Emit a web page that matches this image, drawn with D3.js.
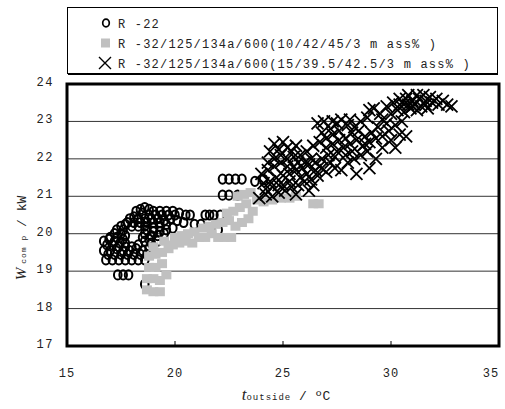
<!DOCTYPE html>
<html>
<head>
<meta charset="utf-8">
<script src="https://cdn.jsdelivr.net/npm/d3@7"></script>
<style>
  body { margin: 0; background: #fff; }
  #chart { width: 505px; height: 409px; }
  text { font-family: "Liberation Mono", monospace; fill: #222; }
</style>
</head>
<body>
<div id="chart"></div>
<script>
// outside temperature (degC) vs compressor power (kW), one array of [t, W] per refrigerant
const r22 = [
  [18.4, 20.65], [18.6, 20.7], [18.8, 20.65], [19.0, 20.6], [19.3, 20.6], [19.6, 20.6], [19.9, 20.6], [20.2, 20.55], [20.5, 20.5],
  [18.2, 20.6], [18.5, 20.55], [18.8, 20.5], [19.1, 20.5], [19.4, 20.5], [19.7, 20.5], [20.0, 20.5],
  [17.9, 20.4], [18.1, 20.45], [18.3, 20.4], [18.6, 20.4], [18.9, 20.4], [19.2, 20.4], [19.5, 20.35], [19.8, 20.4], [20.1, 20.35], [20.4, 20.3], [20.7, 20.5],
  [17.8, 20.3], [18.1, 20.3], [18.4, 20.3], [18.7, 20.3], [19.0, 20.3], [19.3, 20.3], [19.6, 20.25],
  [17.5, 20.2], [17.7, 20.25], [18.0, 20.2], [18.3, 20.2], [18.6, 20.2], [19.0, 20.15], [19.3, 20.2], [19.6, 20.1], [19.9, 20.15],
  [17.3, 20.1], [17.6, 20.1], [18.7, 20.1], [19.0, 20.05], [19.3, 20.05],
  [17.2, 20.0], [17.5, 20.0], [17.7, 19.95], [18.6, 20.0], [18.9, 19.95], [19.2, 19.95], [19.5, 20.0],
  [17.0, 19.9], [17.3, 19.9], [17.6, 19.85], [18.5, 19.9], [18.8, 19.85],
  [16.7, 19.8], [16.95, 19.85], [17.2, 19.8], [17.45, 19.75], [17.7, 19.75], [18.6, 19.8], [18.9, 19.75], [19.2, 19.8],
  [16.85, 19.7], [17.1, 19.7], [17.4, 19.65], [17.7, 19.65], [18.0, 19.65], [18.3, 19.7],
  [16.7, 19.55], [17.0, 19.55], [17.3, 19.6], [17.6, 19.55], [17.9, 19.55], [18.2, 19.6], [18.5, 19.55], [18.8, 19.6],
  [16.9, 19.45], [17.2, 19.45], [17.5, 19.45], [17.8, 19.45], [18.1, 19.45], [18.4, 19.45], [18.7, 19.45],
  [16.8, 19.3], [17.1, 19.3], [17.4, 19.3], [17.7, 19.3], [18.0, 19.3], [18.3, 19.3], [18.6, 19.3],
  [17.35, 18.9], [17.6, 18.9], [17.85, 18.9],
  [18.6, 18.65],
  [20.9, 20.25], [21.2, 20.25], [21.4, 20.5], [21.6, 20.5], [21.8, 20.5], [22.1, 20.5], [22.0, 20.1],
  [22.2, 21.46], [22.5, 21.46], [22.8, 21.46], [23.1, 21.46],
  [22.2, 21.03], [22.5, 21.03], [22.9, 21.03],
  [23.7, 21.4], [24.1, 21.45]
];

const blend10 = [
  [18.7, 18.5], [19.0, 18.45], [19.3, 18.45], [18.7, 18.8], [19.0, 18.8], [19.3, 18.75], [19.6, 18.9],
  [18.8, 19.1], [19.1, 19.1], [19.4, 19.2], [18.8, 19.4], [19.1, 19.45], [19.4, 19.5], [19.7, 19.6],
  [19.0, 19.65], [19.5, 19.8], [19.9, 19.7], [20.2, 19.75], [20.5, 19.8], [20.8, 19.75], [21.1, 19.9],
  [20.0, 19.9], [20.3, 19.95], [20.6, 20.0], [20.9, 20.05], [21.4, 19.9], [21.7, 20.0], [22.0, 19.9], [22.3, 19.9], [22.6, 19.9],
  [21.3, 20.15], [21.6, 20.2], [21.9, 20.25], [22.2, 20.3], [22.5, 20.35], [22.8, 20.2], [23.1, 20.3], [23.4, 20.4],
  [22.4, 20.55], [22.7, 20.6], [23.0, 20.7], [23.3, 20.8], [23.6, 20.6], [22.9, 21.0], [23.2, 21.05], [23.5, 21.1],
  [23.8, 20.9], [24.1, 20.85], [24.5, 20.9], [24.9, 20.95], [25.3, 20.95], [25.6, 21.0],
  [26.4, 20.8], [26.65, 20.8]
];

const blend15 = [
  [23.9, 20.95], [24.2, 21.05], [24.5, 21.0], [24.8, 21.1], [25.1, 21.15], [25.6, 21.05], [26.2, 21.15],
  [25.4, 21.25], [25.7, 21.3], [26.0, 21.4], [26.3, 21.45], [26.6, 21.55], [27.0, 21.65], [27.4, 21.75],
  [24.1, 21.35], [24.4, 21.4], [24.7, 21.5], [25.0, 21.55], [25.3, 21.6], [25.6, 21.7], [25.9, 21.75],
  [26.2, 21.85], [26.5, 21.9], [26.8, 22.0], [27.1, 22.1], [27.5, 22.2], [27.8, 22.3], [28.1, 22.4],
  [28.4, 22.5], [28.8, 22.6], [29.1, 22.7], [29.4, 22.85], [29.8, 22.95],
  [24.3, 21.7], [24.6, 21.8], [24.9, 21.9], [25.2, 22.0], [25.5, 22.05], [25.8, 22.1],
  [24.4, 22.2], [24.8, 22.25], [25.2, 22.3], [25.6, 22.35], [26.1, 22.2], [26.4, 22.35], [26.7, 22.45],
  [27.0, 22.55], [27.3, 22.65], [27.6, 22.75], [26.6, 22.95], [26.9, 23.0], [27.3, 23.0], [27.7, 23.05],
  [28.0, 22.9], [28.3, 22.85], [28.6, 23.0], [28.9, 23.1], [29.2, 23.35], [29.5, 23.2], [29.8, 23.4],
  [30.1, 23.5], [30.4, 23.6], [30.7, 23.6], [31.0, 23.55], [31.3, 23.6], [31.6, 23.55], [31.9, 23.5],
  [32.2, 23.45], [32.6, 23.45], [30.3, 23.3], [30.6, 23.25], [30.9, 23.35], [31.2, 23.3],
  [27.7, 21.7], [28.0, 21.9], [28.3, 22.0], [28.6, 22.1], [28.9, 22.2], [29.3, 22.0], [29.6, 22.3],
  [30.0, 22.5], [30.4, 22.65], [30.7, 22.6], [30.2, 22.9], [30.5, 23.0], [29.0, 21.75], [28.4, 21.6],
  [24.0, 21.6], [24.3, 21.9], [24.6, 22.0], [24.9, 22.1], [25.0, 21.3], [25.3, 21.4], [25.5, 21.8],
  [25.8, 21.5], [26.0, 21.9], [26.3, 22.0], [26.5, 21.7], [26.8, 21.75], [27.0, 22.3], [27.3, 22.4],
  [27.6, 22.5], [27.9, 22.55], [28.2, 22.7], [28.5, 22.75], [28.7, 22.35], [29.0, 22.45], [29.3, 22.55],
  [29.6, 22.6], [29.9, 22.75], [30.2, 22.3], [30.0, 23.2], [30.4, 23.45], [30.8, 23.45], [31.1, 23.45],
  [31.4, 23.4], [31.7, 23.35], [31.5, 23.7], [31.8, 23.65], [32.1, 23.6], [32.4, 23.55], [32.8, 23.4],
  [29.0, 23.3], [29.6, 23.05], [28.1, 23.05], [27.5, 22.95], [26.8, 22.7], [27.2, 22.8], [25.0, 22.45], [24.6, 22.4],
  [24.2, 21.2], [24.5, 21.25], [24.8, 21.3], [25.2, 21.8], [25.4, 22.2], [25.7, 21.9], [26.1, 21.6],
  [26.4, 21.3], [26.7, 21.8], [27.2, 21.9], [27.4, 22.05], [27.9, 22.1], [28.2, 22.2], [28.8, 22.4],
  [30.8, 23.7], [31.2, 23.7], [30.6, 23.45], [31.0, 23.4], [31.6, 23.45]
];

const seriesNames = [
  "R-22",
  "R-32/125/134a/600(10/42/45/3 mass% )",
  "R-32/125/134a/600(15/39.5/42.5/3 mass% )"
];
const xTicks = [15, 20, 25, 30, 35];
const yTicks = [17, 18, 19, 20, 21, 22, 23, 24];

const width = 505;
const height = 409;
const margin = { top: 84, left: 67, right: 6, bottom: 63 };

const svg = d3.select("#chart")
  .append("svg")
  .attr("width", width)
  .attr("height", height);

const xScale = d3.scaleLinear()
  .domain([15, 35])
  .range([margin.left, width - margin.right]);

const yScale = d3.scaleLinear()
  .domain([17, 24])
  .range([height - margin.bottom, margin.top]);

// horizontal gridlines
svg.append("g")
  .selectAll("line")
  .data(yTicks.slice(1, -1))
  .enter().append("line")
  .attr("x1", xScale(15))
  .attr("x2", xScale(35))
  .attr("y1", d => yScale(d))
  .attr("y2", d => yScale(d))
  .attr("stroke", "#333")
  .attr("stroke-width", 1);

// R-22: open circles
svg.append("g")
  .selectAll("ellipse")
  .data(r22)
  .enter().append("ellipse")
  .attr("cx", d => xScale(d[0]))
  .attr("cy", d => yScale(d[1]))
  .attr("rx", 3.8)
  .attr("ry", 4.6)
  .attr("fill", "none")
  .attr("stroke", "#000")
  .attr("stroke-width", 2);

// 10/42/45/3 blend: grey squares
svg.append("g")
  .selectAll("rect")
  .data(blend10)
  .enter().append("rect")
  .attr("x", d => xScale(d[0]) - 5)
  .attr("y", d => yScale(d[1]) - 4.5)
  .attr("width", 10)
  .attr("height", 9)
  .attr("fill", "#c0c0c0");

// 15/39.5/42.5/3 blend: crosses
const cross = "M-6,-6L6,6M6,-6L-6,6";
svg.append("g")
  .selectAll("path")
  .data(blend15)
  .enter().append("path")
  .attr("transform", d => `translate(${xScale(d[0])},${yScale(d[1])})`)
  .attr("d", cross)
  .attr("fill", "none")
  .attr("stroke", "#000")
  .attr("stroke-width", 1.8);

// x ticks point inwards from the bottom edge
svg.append("g")
  .selectAll("line")
  .data(xTicks.slice(1, -1))
  .enter().append("line")
  .attr("x1", d => xScale(d))
  .attr("x2", d => xScale(d))
  .attr("y1", yScale(17))
  .attr("y2", yScale(17) - 5)
  .attr("stroke", "#000")
  .attr("stroke-width", 1);

// plot frame
svg.append("rect")
  .attr("x", xScale(15))
  .attr("y", yScale(24))
  .attr("width", xScale(35) - xScale(15))
  .attr("height", yScale(17) - yScale(24))
  .attr("fill", "none")
  .attr("stroke", "#000")
  .attr("stroke-width", 3);

// tick labels
svg.append("g")
  .selectAll("text")
  .data(xTicks)
  .enter().append("text")
  .attr("x", d => Math.min(xScale(d), 491))
  .attr("y", 377)
  .attr("text-anchor", "middle")
  .attr("font-size", 12)
  .attr("letter-spacing", 1)
  .text(d => d);

svg.append("g")
  .selectAll("text")
  .data(yTicks)
  .enter().append("text")
  .attr("x", 54)
  .attr("y", d => yScale(d) + 2)
  .attr("text-anchor", "end")
  .attr("font-size", 12)
  .attr("letter-spacing", 1.5)
  .text(d => d);

// axis titles
const xTitle = svg.append("text")
  .attr("x", 286)
  .attr("y", 400)
  .attr("text-anchor", "middle")
  .attr("font-size", 13);
xTitle.append("tspan").attr("font-family", "Liberation Serif").attr("font-style", "italic").attr("font-size", 17).text("t");
xTitle.append("tspan").attr("font-size", 9).attr("letter-spacing", 1).text("outside");
xTitle.append("tspan").text(" / ºC");

const yTitle = svg.append("text")
  .attr("transform", "translate(26,238) rotate(-90)")
  .attr("text-anchor", "middle")
  .attr("font-size", 13);
yTitle.append("tspan").attr("font-family", "Liberation Serif").attr("font-style", "italic").attr("font-size", 15).text("W");
yTitle.append("tspan").attr("font-size", 8).attr("dx", 4).attr("letter-spacing", 1).text("com p");
yTitle.append("tspan").text(" / kW");

// legend
const legend = svg.append("g");
legend.append("rect")
  .attr("x", 67.5)
  .attr("y", 7.5)
  .attr("width", 430)
  .attr("height", 66)
  .attr("fill", "#fff")
  .attr("stroke", "#000")
  .attr("stroke-width", 1);
legend.append("line")
  .attr("x1", 68).attr("x2", 498)
  .attr("y1", 74.5).attr("y2", 74.5)
  .attr("stroke", "#000")
  .attr("stroke-width", 1);

const rowY = [23, 43, 63];
legend.append("ellipse")
  .attr("cx", 106).attr("cy", rowY[0])
  .attr("rx", 3.3).attr("ry", 3.8)
  .attr("fill", "none").attr("stroke", "#000").attr("stroke-width", 1.7);
legend.append("rect")
  .attr("x", 101).attr("y", rowY[1] - 4.5)
  .attr("width", 9).attr("height", 9)
  .attr("fill", "#c0c0c0");
legend.append("path")
  .attr("transform", `translate(105,${rowY[2]})`)
  .attr("d", cross)
  .attr("fill", "none").attr("stroke", "#000").attr("stroke-width", 1.4);

legend.selectAll("text.label")
  .data(seriesNames)
  .enter().append("text")
  .attr("class", "label")
  .attr("x", 118)
  .attr("y", (d, i) => rowY[i] + 5)
  .attr("font-size", 12)
  .attr("letter-spacing", 1.2)
  .text(d => d.replace("R-", "R -").replace("mass", "m ass"));
</script>
</body>
</html>
